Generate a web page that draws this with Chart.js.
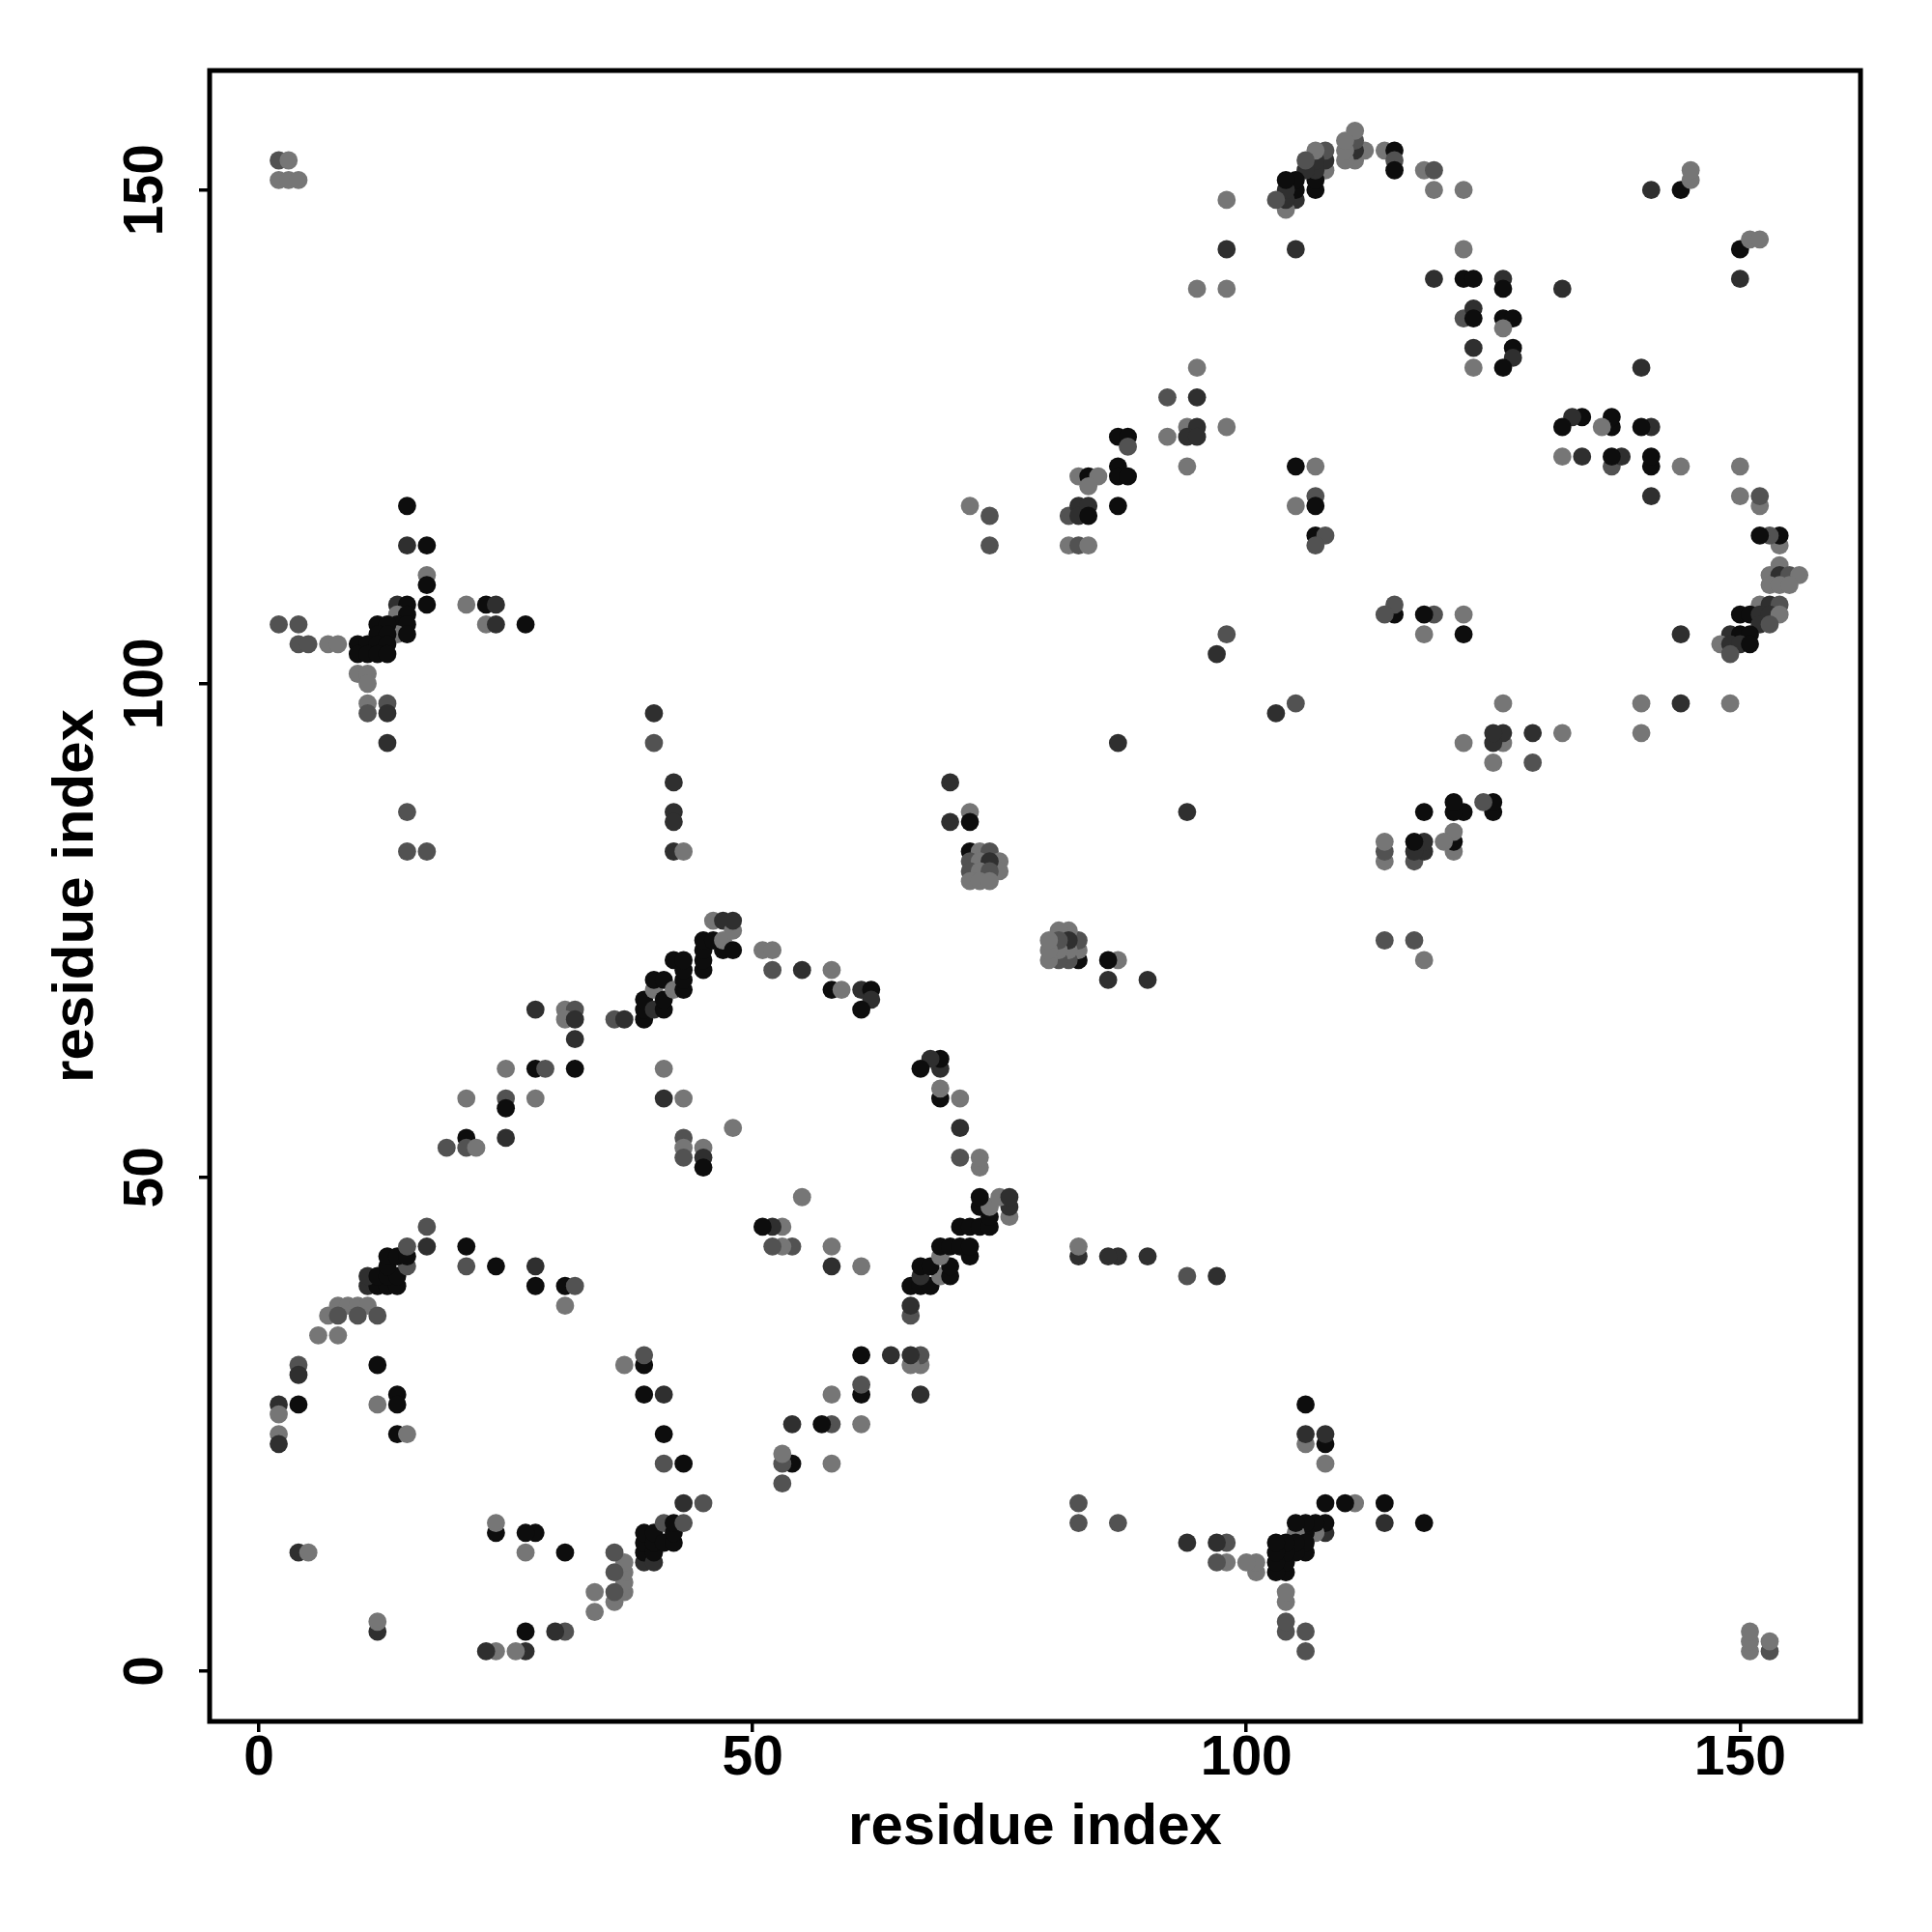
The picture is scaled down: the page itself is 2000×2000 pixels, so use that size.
<!DOCTYPE html>
<html>
<head>
<meta charset="utf-8">
<script src="https://cdn.jsdelivr.net/npm/chart.js@4.4.1/dist/chart.umd.min.js"></script>
<style>
html,body{margin:0;padding:0;background:#ffffff;}
#wrap{width:2000px;height:2000px;}
</style>
</head>
<body>
<div id="wrap"><canvas id="c" width="2000" height="2000"></canvas></div>
<script>
// Contact pairs (residue i < residue j); the map shows each pair at (i,j) and (j,i).
const contactI = [
  2,3,2,3,4, 98,105,98,95,98,95,92,95,92,94,95,94,95,98,94,87,88,88,87,87,88,83,84,85,84,105,107,
  112,111,111,111,111,110,110,110,108,108,108,107,107,107,107,107,106,106,105,105,105,104,104,104,104,103,
  114,115,115,115,118,119,119,122,141,144,145,145,122,119,122,123,126,126,132,122,123,123,126,127,126,123,127,127,123,126,
  15,15,17,17,17,17,14,15,14,15,14,15,14,15,12,13,12,13,10,11,12,13,10,11,12,13,
  2,4,4,5,7,8,10,11,11,11,13,11,13,13,15,15,17,21,23,24,23,24,27,40,40,42,42,42,42,43,
  72,74,74,82,83,83,84,84,87,82,83,84,105,98,97,87,70,70,72,72,
  72,73,74,75,75,72,73,74,72,73,74,72,73,74,
  107,107,107,108,107,
  28,31,32,31,32,32,25,28,29,32,21,25,25,28,19,21,21,22,25,41,41,43,43,43,43,45,45,45,48,36,37,
  39,39,39,40,40,40,41,41,41,42,42,43,43,43,43,45,45,45,45,46,47,47,46,47,48,48,48,
  11,12,13,14,11,12,13,14,13,15,13,14,15,15,17,17,
  28,28,31,32,31,24,21,21,
  8,9,10,11,7,8,10,12,6,8,
  51,52,52,55,58,58,59,61,62,62,61,
  4,4,12,2,4,2,2,2,12,14,14,14,15,4,5
];
const contactJ = [
  153,153,151,151,151, 149,144,144,140,140,132,129,129,125,126,126,125,125,126,122,125,125,124,122,121,121,121,121,121,120,122,122,
  154,153,154,155,156,153,154,155,152,153,154,150,151,152,153,154,152,153,149,150,151,148,149,150,151,149,
  154,154,153,152,152,152,150,150,150,150,151,152,144,141,141,141,141,140,140,137,138,137,137,137,136,134,134,133,132,132,
  118,114,114,111,110,108,108,108,107,107,106,106,105,105,106,106,105,105,104,104,104,104,103,103,103,103,
  106,106,104,104,104,104,101,101,100,98,98,97,97,94,87,83,83,108,108,108,106,106,106,97,94,90,87,86,83,83,
  118,117,114,117,118,117,118,117,118,114,114,114,118,105,103,94,90,86,87,86,
  83,83,83,82,81,82,82,82,81,81,81,80,80,80,
  119,118,115,115,114,
  67,67,67,66,66,64,61,61,61,61,58,58,57,58,53,54,53,53,54,61,58,58,54,53,52,53,52,51,55,66,66,
  66,67,68,67,69,70,67,68,70,69,72,69,70,71,72,71,72,73,74,74,73,74,76,76,73,75,76,
  39,39,39,39,40,40,40,40,41,41,42,42,42,43,43,45,
  41,39,39,39,37,41,41,43,
  37,37,37,37,36,36,36,36,34,34,
  73,73,71,71,71,69,69,69,69,68,67,
  31,30,31,27,27,26,24,23,27,28,27,24,24,12,12
];
// 0 = black, 1 = dark, 2 = dark grey, 3 = grey
const contactShade = [
  2,3,3,3,3, 3,1,1,3,3,3,2,1,3,3,1,1,1,3,3,0,0,2,0,0,0,3,0,3,3,0,3,
  3,3,1,2,3,3,3,3,3,1,2,0,0,1,1,3,1,2,1,0,0,3,1,1,0,2,
  3,0,2,0,3,2,3,3,1,0,3,3,3,1,0,0,1,0,1,2,1,0,0,0,3,1,0,1,3,0,
  0,1,0,3,0,0,1,0,3,0,0,0,3,0,0,0,0,0,0,0,0,0,0,0,0,0,
  2,2,2,2,3,3,3,3,3,3,2,2,1,1,2,2,2,3,0,1,3,1,0,1,2,1,1,1,1,3,
  3,2,2,2,1,1,1,0,0,3,2,3,3,2,1,1,1,1,3,0,
  0,3,2,3,3,2,3,1,2,3,2,3,3,3,
  2,0,0,2,2,
  1,3,2,3,1,1,3,0,2,0,3,2,0,3,2,0,2,3,1,3,1,3,2,3,2,3,1,0,3,2,1,
  0,0,0,1,3,0,0,0,0,3,0,0,0,0,0,0,0,0,0,0,0,3,3,1,0,3,1,
  1,0,0,0,1,0,0,0,0,2,0,0,0,2,1,2,
  1,0,0,2,3,0,2,0,
  3,3,3,3,3,2,2,2,3,3,
  3,3,2,1,3,0,3,1,0,1,0,
  2,1,0,1,0,3,3,1,3,0,0,0,3,1,3
];
const shadeColors = ['#0d0d0d', '#2f2f2f', '#525252', '#767676'];

const xTicks = [0, 50, 100, 150];
const yTicks = [0, 50, 100, 150];
const xTickLabels = ['0', '50', '100', '150'];
const yTickLabels = ['0', '50', '100', '150'];
const xTitle = 'residue index';
const yTitle = 'residue index';

const FONT = "'Liberation Sans', Arial, Helvetica, sans-serif";

const points = [];
const colors = [];
for (let k = 0; k < contactI.length; k++) {
  const col = shadeColors[contactShade[k]];
  points.push({x: contactI[k], y: contactJ[k]}); colors.push(col);
  points.push({x: contactJ[k], y: contactI[k]}); colors.push(col);
}

const framePlugin = {
  id: 'frameAndYLabels',
  afterDraw(chart) {
    const {ctx, chartArea} = chart;
    ctx.save();
    ctx.strokeStyle = '#000';
    ctx.lineWidth = 5;
    ctx.strokeRect(chartArea.left, chartArea.top, chartArea.right - chartArea.left, chartArea.bottom - chartArea.top);
    const ys = chart.scales.y;
    ctx.fillStyle = '#000';
    ctx.font = 'bold 57px ' + FONT;
    ctx.textAlign = 'center';
    ctx.textBaseline = 'middle';
    yTicks.forEach((v, k) => {
      const py = ys.getPixelForValue(v);
      ctx.save();
      ctx.translate(152, py);
      ctx.rotate(-Math.PI / 2);
      ctx.fillText(yTickLabels[k], 0, 0);
      ctx.restore();
    });
    ctx.restore();
  }
};

new Chart(document.getElementById('c'), {
  type: 'scatter',
  data: {
    datasets: [{
      data: points,
      pointBackgroundColor: colors,
      pointBorderColor: colors,
      pointBorderWidth: 0,
      pointRadius: 9.4,
      pointHoverRadius: 9.4
    }]
  },
  options: {
    responsive: false,
    animation: false,
    devicePixelRatio: 1,
    events: [],
    layout: {padding: {left: 0, right: 74, top: 73, bottom: 0}},
    plugins: {legend: {display: false}, tooltip: {enabled: false}},
    scales: {
      x: {
        type: 'linear', position: 'bottom', min: -5, max: 162.2,
        afterBuildTicks: (s) => { s.ticks = xTicks.map(v => ({value: v})); },
        afterFit: (s) => { s.height = 218; },
        ticks: {
          autoSkip: false, maxRotation: 0, minRotation: 0, padding: 0, color: '#000',
          font: {family: FONT, size: 57, weight: 'bold', lineHeight: 1},
          callback: (v) => { const k = xTicks.indexOf(v); return k >= 0 ? xTickLabels[k] : ''; }
        },
        grid: {display: true, drawOnChartArea: false, drawTicks: true, tickLength: 11, tickColor: '#000', tickWidth: 3.5, color: '#000', lineWidth: 3.5},
        border: {display: false},
        title: {display: true, text: xTitle, color: '#000', font: {family: FONT, size: 60, weight: 'bold', lineHeight: 1.2}, padding: {top: 0, bottom: 72}}
      },
      y: {
        type: 'linear', position: 'left', min: -5.1, max: 162.1,
        afterBuildTicks: (s) => { s.ticks = yTicks.map(v => ({value: v})); },
        afterFit: (s) => { s.width = 217; },
        ticks: {display: false},
        grid: {display: true, drawOnChartArea: false, drawTicks: true, tickLength: 11, tickColor: '#000', tickWidth: 3.5, color: '#000', lineWidth: 3.5},
        border: {display: false},
        title: {display: true, text: yTitle, color: '#000', font: {family: FONT, size: 60, weight: 'bold', lineHeight: 1.2}, padding: {top: 43, bottom: 0}}
      }
    }
  },
  plugins: [framePlugin]
});
</script>
</body>
</html>
